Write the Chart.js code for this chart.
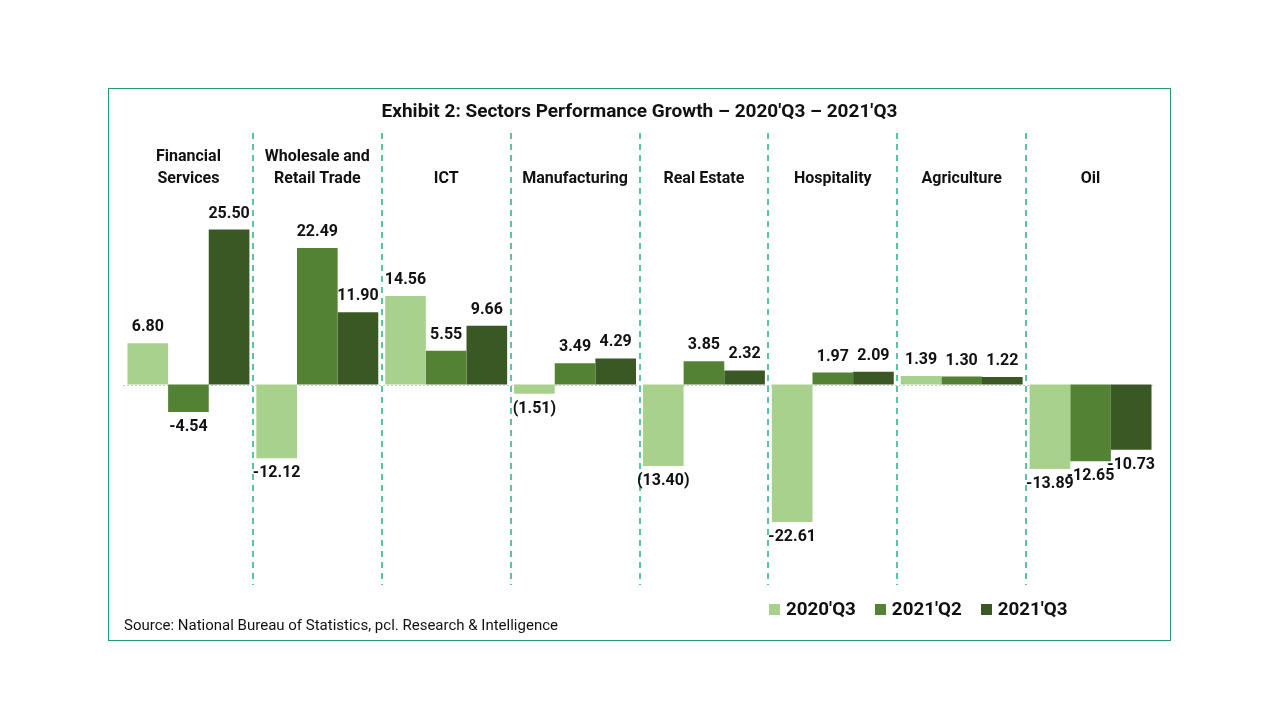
<!DOCTYPE html>
<html>
<head>
<meta charset="utf-8">
<script src="https://cdn.jsdelivr.net/npm/chart.js@4.4.1/dist/chart.umd.min.js"></script>
<style>
  body { margin: 0; background: #fff; font-family: Roboto, "Noto Sans", sans-serif; }
  #frame { position: absolute; left: 108px; top: 88px; width: 1061px; height: 551px; border: 1px solid #23997c; }
  #title { position: absolute; left: 0; right: 0; top: 10px; text-align: center; font-weight: bold; font-size: 19px; color: #111; }
  #box { position: absolute; left: 0; top: 0; width: 1061px; height: 551px; }
  #source { position: absolute; left: 15px; top: 527px; font-size: 15px; color: #111; }
  #legend { position: absolute; left: 660px; top: 509px; font-size: 18.8px; font-weight: bold; color: #111; display: flex; }
  #legend span.item { display: flex; align-items: center; margin-right: 19px; }
  #legend span.sw { width: 11px; height: 11px; display: inline-block; margin-right: 6px; }
</style>
</head>
<body>
<div id="frame">
  <div id="box"><canvas id="chart"></canvas></div>
  <div id="title">Exhibit 2: Sectors Performance Growth – 2020'Q3 – 2021'Q3</div>
  <div id="legend"></div>
  <div id="source">Source: National Bureau of Statistics, pcl. Research &amp; Intelligence</div>
</div>
<script>
// sectors (multi-line labels)
const sectors = [
    ['Financial', 'Services'],
    ['Wholesale and', 'Retail Trade'],
    ['ICT'],
    ['Manufacturing'],
    ['Real Estate'],
    ['Hospitality'],
    ['Agriculture'],
    ['Oil']
]
const seriesNames = ["2020'Q3", "2021'Q2", "2021'Q3"]
const q3_2020 = [6.80, -12.12, 14.56, -1.51, -13.40, -22.61, 1.39, -13.89]
const q2_2021 = [-4.54, 22.49, 5.55, 3.49, 3.85, 1.97, 1.30, -12.65]
const q3_2021 = [25.50, 11.90, 9.66, 4.29, 2.32, 2.09, 1.22, -10.73]
// labels shown in accounting style, [series, sector]
const bracketed = [[0, 3], [0, 4]]
const colors = ['#a9d18e', '#548235', '#3a5824']

function fmt(v, ds, i) {
    let brk = bracketed.some(b => b[0] === ds && b[1] === i)
    if (brk && v < 0) return '(' + Math.abs(v).toFixed(2) + ')'
    return v.toFixed(2)
}

const decor = {
    id: 'decor',
    beforeDatasetsDraw(chart) {
        const ctx = chart.ctx, x = chart.scales.x, y = chart.scales.y, area = chart.chartArea
        const step = x.getPixelForValue(1) - x.getPixelForValue(0)
        ctx.save()
        // zero line
        ctx.strokeStyle = '#c9c9c9'
        ctx.lineWidth = 1
        ctx.setLineDash([2, 2])
        let y0 = Math.round(y.getPixelForValue(0)) + 0.5
        ctx.beginPath(); ctx.moveTo(area.left - 1, y0); ctx.lineTo(area.right, y0); ctx.stroke()
        // separators
        ctx.strokeStyle = '#5cc3a7'
        ctx.lineWidth = 2
        ctx.setLineDash([6, 5])
        for (let i = 0; i < sectors.length - 1; i++) {
            let px = Math.round(x.getPixelForValue(i) + step / 2)
            ctx.beginPath(); ctx.moveTo(px, area.top); ctx.lineTo(px, area.bottom); ctx.stroke()
        }
        ctx.setLineDash([])
        // sector names
        ctx.fillStyle = '#111'
        ctx.font = 'bold 16px Roboto'
        ctx.textAlign = 'center'
        ctx.textBaseline = 'middle'
        sectors.forEach((lines, i) => {
            let px = x.getPixelForValue(i)
            lines.forEach((t, k) => {
                ctx.fillText(t, px, area.top + 46 - (lines.length - 1 - k) * 22)
            })
        })
        ctx.restore()
    },
    afterDatasetsDraw(chart) {
        const ctx = chart.ctx
        ctx.save()
        ctx.fillStyle = '#111'
        ctx.font = 'bold 16px Roboto'
        ctx.textAlign = 'center'
        ctx.textBaseline = 'middle'
        chart.data.datasets.forEach((ds, d) => {
            chart.getDatasetMeta(d).data.forEach((bar, i) => {
                let v = ds.data[i]
                let ty = v >= 0 ? bar.y - 16 : bar.y + 15
                ctx.fillText(fmt(v, d, i), bar.x, ty)
            })
        })
        ctx.restore()
    }
}

const chart = new Chart(document.getElementById('chart'), {
    type: 'bar',
    data: {
        labels: sectors.map(s => s.join(' ')),
        datasets: [q3_2020, q2_2021, q3_2021].map((d, k) => ({
            label: seriesNames[k],
            data: d,
            backgroundColor: colors[k],
            categoryPercentage: 0.946,
            barPercentage: 1.0
        }))
    },
    options: {
        responsive: true,
        maintainAspectRatio: false,
        animation: false,
        layout: { padding: { left: 15, right: 15, top: 44, bottom: 55 } },
        scales: {
            x: { display: false },
            y: { display: false, min: -33, max: 41.4 }
        },
        plugins: { legend: { display: false }, tooltip: { enabled: false } }
    },
    plugins: [decor]
})

// html legend from the datasets
const leg = document.getElementById('legend')
chart.data.datasets.forEach(ds => {
    let item = document.createElement('span')
    item.className = 'item'
    item.innerHTML = '<span class="sw" style="background:' + ds.backgroundColor + '"></span>' + ds.label
    leg.appendChild(item)
})
</script>
</body>
</html>
